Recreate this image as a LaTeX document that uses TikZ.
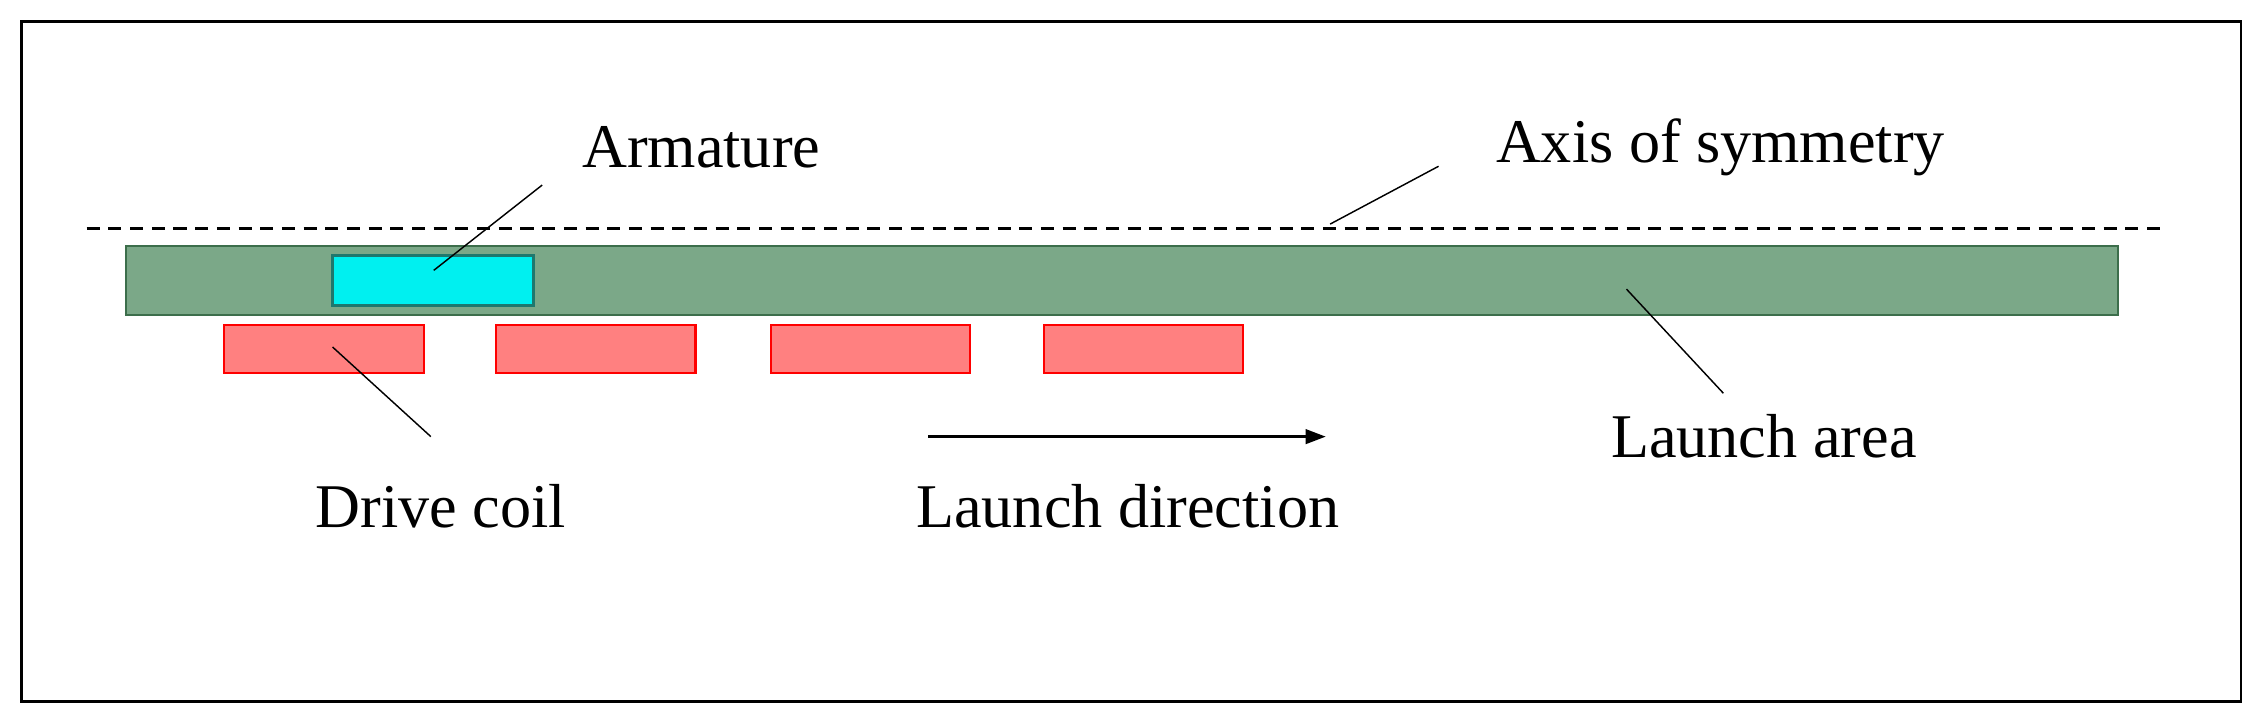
\documentclass[tikz,border=0pt]{standalone}
\usepackage{fontspec}
\setmainfont{Liberation Serif}
\usetikzlibrary{arrows.meta}
\begin{document}
\begin{tikzpicture}[x=1pt,y=-1pt,
  lbl/.style={font=\fontsize{43}{47}\selectfont,inner sep=0pt},
  leader/.style={line width=1pt},
  coil/.style={draw=red,fill={rgb,255:red,255;green,128;blue,128},line width=1.5pt},
]
\useasboundingbox (0,0) rectangle (1568,503.5);
\draw[line width=2pt] (15,15) rectangle (1550,485);
\draw[line width=2pt,dash pattern=on 9pt off 6pt] (60,158) -- (1495,158);
\draw[fill={rgb,255:red,123;green,168;blue,136},draw={rgb,255:red,60;green,110;blue,75},line width=1.5pt] (87,170) rectangle (1465,218);
\draw[fill={rgb,255:red,0;green,240;blue,240},draw={rgb,255:red,30;green,120;blue,110},line width=2pt] (230,177) rectangle (369,211);
\draw[coil] (155,225) rectangle (293,258);
\draw[coil] (343,225) rectangle (481,258);
\draw[coil] (533,225) rectangle (671,258);
\draw[coil] (722,225) rectangle (860,258);
\node[lbl] (arm) at (485,102) {Armature};
\node[lbl] (axis) at (1190,102) {Axis of symmetry};
\node[lbl] (la) at (1220,302) {Launch area};
\node[lbl] (dc) at (305,350) {Drive coil};
\node[lbl] (ld) at (780,350) {Launch direction};
\coordinate (a1) at (300,187); \coordinate (a2) at (375,128);
\coordinate (s1) at (920,155); \coordinate (s2) at (995,115);
\coordinate (l1) at (1125,200); \coordinate (l2) at (1192,272);
\coordinate (d1) at (230,240); \coordinate (d2) at (298,302);
\draw[leader] (a1) -- (a2);
\draw[leader] (s1) -- (s2);
\draw[leader] (l1) -- (l2);
\draw[leader] (d1) -- (d2);
\coordinate (r1) at (642,302); \coordinate (r2) at (917,302);
\draw[line width=2pt,-{Triangle[length=14pt,width=10pt]}] (r1) -- (r2);
\end{tikzpicture}
\end{document}
